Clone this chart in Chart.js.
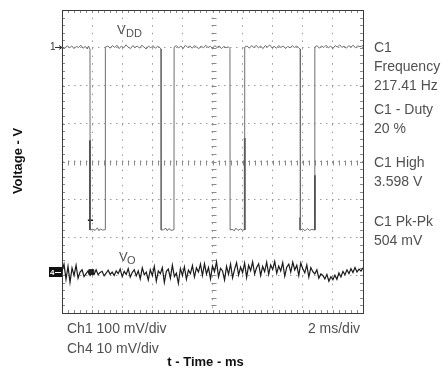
<!DOCTYPE html>
<html><head><meta charset="utf-8">
<script src="https://cdn.jsdelivr.net/npm/chart.js@4/dist/chart.umd.min.js"></script>
<style>html,body{margin:0;padding:0;background:#fff;overflow:hidden}</style>
</head><body>
<canvas id="c" width="444" height="369"></canvas>
<script>
// ---- Data (divisions on y, milliseconds on x) ----
const vddT = [0.00,0.20,0.35,0.50,0.65,0.80,0.95,1.10,1.25,1.40,1.55,1.68,1.76,1.86,
  1.87,2.05,2.20,2.35,2.45,2.55,2.70,2.87,
  2.88,3.05,3.20,3.35,3.50,3.65,3.80,3.95,4.10,4.25,4.40,4.55,4.70,4.85,5.00,5.15,5.30,5.45,5.60,5.75,5.90,6.05,6.20,6.35,6.50,6.58,
  6.59,6.75,6.90,7.00,7.10,7.25,7.44,
  7.45,7.60,7.75,7.90,8.05,8.20,8.35,8.50,8.65,8.80,8.95,9.10,9.25,9.40,9.55,9.70,9.85,10.00,10.15,10.30,10.45,10.60,10.75,10.90,11.05,11.16,
  11.17,11.30,11.45,11.55,11.70,11.85,12.00,12.13,
  12.14,12.30,12.45,12.60,12.75,12.90,13.05,13.20,13.35,13.50,13.65,13.80,13.95,14.10,14.25,14.40,14.55,14.70,14.85,15.00,15.15,15.30,15.45,15.60,15.75,15.83,
  15.84,16.00,16.15,16.30,16.45,16.60,16.79,
  16.80,16.95,17.10,17.25,17.40,17.55,17.70,17.85,18.00,18.15,18.30,18.45,18.60,18.75,18.90,19.05,19.20,19.35,19.50,19.65,19.80,20.00];
const vddV = [7.03,6.99,7.06,7.00,7.05,6.98,7.04,7.01,7.07,6.99,7.04,6.97,7.05,6.96,
  2.19,2.21,2.18,2.25,2.17,2.22,2.19,2.20,
  7.02,7.05,6.99,7.06,7.01,7.07,6.98,7.05,7.00,7.08,7.02,6.98,7.06,7.01,7.05,6.99,7.07,7.02,6.97,7.05,7.00,7.06,6.99,7.04,7.01,6.97,
  2.19,2.20,2.24,2.17,2.23,2.18,2.20,
  7.02,7.06,7.00,7.05,6.98,7.07,7.01,7.05,6.99,7.06,7.02,6.98,7.05,7.00,7.07,7.01,7.04,6.99,7.06,7.01,7.05,6.98,7.04,7.00,7.03,6.98,
  2.19,2.21,2.17,2.24,2.18,2.22,2.19,2.20,
  7.02,7.05,6.99,7.06,7.01,7.07,7.00,7.05,6.98,7.06,7.02,7.08,7.00,7.04,6.99,7.06,7.01,7.05,6.98,7.04,7.00,7.06,7.01,7.05,6.99,6.97,
  2.19,2.22,2.17,2.23,2.18,2.21,2.19,
  7.02,7.06,6.99,7.05,7.01,7.07,7.00,7.05,6.98,7.06,7.02,7.08,7.01,7.05,6.99,7.06,7.02,7.07,7.00,7.05,7.03,7.06];

// brighter (darker-drawn) edge segments of the VDD trace, null = gap
const darkT = [1.86,1.86,null,1.72,2.06,null,12.14,12.14,null,16.80,16.80,null,15.83,15.83];
const darkV = [4.56,2.19,null,2.45,2.45,null,4.62,2.19,null,3.64,2.19,null,2.53,2.19];

const yoV = [1.11,1.29,0.89,1.23,0.81,1.19,0.99,1.26,0.92,1.08,
  1.14,0.96,1.04,1.11,0.99,1.08,1.02,1.14,1.01,1.07,
  1.10,0.98,1.05,1.13,1.02,1.08,0.99,1.11,1.04,1.16,
  0.96,1.10,1.02,1.17,0.95,1.07,1.14,0.98,1.11,0.90,
  1.19,1.01,1.08,0.87,1.14,0.99,1.23,0.84,1.11,1.04,
  1.20,0.81,1.10,1.16,0.92,1.26,0.96,1.05,0.78,1.17,
  0.99,1.22,0.89,1.13,1.04,1.25,0.95,1.19,1.08,1.29,
  0.99,1.30,1.03,1.20,0.90,1.24,1.09,1.35,0.96,1.18,
  1.11,0.87,1.23,1.02,1.29,0.93,1.15,1.33,1.00,1.21,
  1.06,1.32,0.94,1.26,1.12,1.35,1.03,1.20,1.30,0.99,
  1.23,1.09,1.34,1.02,1.27,1.15,1.36,1.05,1.24,1.11,
  1.33,0.97,1.21,1.29,1.08,1.34,1.14,1.26,0.99,1.32,
  1.17,1.06,1.27,0.95,1.20,1.09,1.03,1.14,0.92,1.03,
  0.99,0.90,1.02,0.84,0.96,0.88,1.00,0.89,1.06,0.95,
  1.10,1.01,1.14,1.04,1.17,1.07,1.20,1.08,1.16,1.11,1.19];
const yoT = yoV.map((v, i) => i * 20 / (yoV.length - 1)); // evenly spaced sample times

const triggerT = [1.95];
const triggerV = [1.08];

const ch1Ref = 7.02;   // "1" channel marker level
const ch4Ref = 1.08;   // "4" channel marker level

const infoLabels = ['C1','Frequency','217.41 Hz','C1 - Duty','20 %','C1 High','3.598 V','C1 Pk-Pk','504 mV'];
const scaleLabels = ['Ch1 100 mV/div','Ch4 10 mV/div','2 ms/div'];
const xTitle = 't - Time - ms';
const yTitle = 'Voltage - V';

const toPts = (xs, ys) => xs.map((t, i) => ({x: t, y: ys[i]}));

const FONT = '"Liberation Sans", Arial, sans-serif';
const TXT = '#505050';

const scopePlugin = {
  id: 'scope',
  beforeDatasetsDraw(chart) {
    const {ctx, chartArea: a, scales: {x, y}} = chart;
    ctx.save();
    ctx.strokeStyle = '#8a8a8a'; ctx.lineWidth = 1;
    ctx.beginPath();
    const cx = Math.round(x.getPixelForValue(10)) + 0.5, cy = Math.round(y.getPixelForValue(4)) + 0.5;
    for (let k = 0; k <= 50; k++) {
      const px = Math.round(x.getPixelForValue(k * 0.4)) + 0.5;
      ctx.moveTo(px, cy - 2); ctx.lineTo(px, cy + 3);
      ctx.moveTo(px, a.bottom); ctx.lineTo(px, a.bottom - 3);
      ctx.moveTo(px, a.top); ctx.lineTo(px, a.top + 3);
    }
    for (let k = 0; k <= 40; k++) {
      const py = Math.round(y.getPixelForValue(k * 0.2)) + 0.5;
      ctx.moveTo(cx - 2, py); ctx.lineTo(cx + 3, py);
      ctx.moveTo(a.left, py); ctx.lineTo(a.left + 3, py);
      ctx.moveTo(a.right, py); ctx.lineTo(a.right - 3, py);
    }
    ctx.stroke();
    ctx.strokeStyle = '#3a3a3a';
    ctx.strokeRect(Math.round(a.left) + 0.5, Math.round(a.top) + 0.5, Math.round(a.right - a.left), Math.round(a.bottom - a.top));
    ctx.restore();
  },
  afterDatasetsDraw(chart) {
    const {ctx, chartArea: a, scales: {x, y}} = chart;
    ctx.save();
    // channel markers
    const y1 = Math.round(y.getPixelForValue(ch1Ref)) + 0.5;
    ctx.fillStyle = '#333'; ctx.font = '10px ' + FONT; ctx.textBaseline = 'middle'; ctx.textAlign = 'left';
    ctx.fillText('1', a.left - 12, y1);
    ctx.strokeStyle = '#333'; ctx.lineWidth = 1;
    ctx.beginPath(); ctx.moveTo(a.left - 7, y1); ctx.lineTo(a.left, y1);
    ctx.moveTo(a.left - 3, y1 - 2); ctx.lineTo(a.left, y1); ctx.lineTo(a.left - 3, y1 + 2); ctx.stroke();
    const y4 = Math.round(y.getPixelForValue(ch4Ref));
    ctx.fillStyle = '#111'; ctx.fillRect(a.left - 13, y4 - 5, 13, 10);
    ctx.fillStyle = '#fff'; ctx.font = 'bold 8px ' + FONT;
    ctx.fillText('4', a.left - 12, y4 + 0.5);
    ctx.strokeStyle = '#fff';
    ctx.beginPath(); ctx.moveTo(a.left - 7, y4 + 0.5); ctx.lineTo(a.left - 1, y4 + 0.5); ctx.stroke();

    // trace labels
    ctx.fillStyle = TXT; ctx.textBaseline = 'alphabetic';
    ctx.font = '13px ' + FONT; ctx.fillText('V', 117, 34);
    ctx.font = '11px ' + FONT; ctx.fillText('DD', 126, 37);
    ctx.font = '13px ' + FONT; ctx.fillText('V', 119, 261);
    ctx.font = '11px ' + FONT; ctx.fillText('O', 127, 264);

    // right annotations
    ctx.font = '14px ' + FONT; ctx.textBaseline = 'middle'; ctx.textAlign = 'left';
    const ys = [48, 67, 86, 110, 129, 163, 182, 222, 241];
    infoLabels.forEach((s, i) => ctx.fillText(s, a.right + 11, ys[i]));

    // scale readouts
    ctx.fillText(scaleLabels[0], a.left + 5, 329);
    ctx.fillText(scaleLabels[1], a.left + 5, 349);
    ctx.textAlign = 'right';
    ctx.fillText(scaleLabels[2], a.right - 3, 329);

    // axis titles
    ctx.fillStyle = '#111'; ctx.font = 'bold 13px ' + FONT; ctx.textAlign = 'center';
    ctx.fillText(xTitle, (a.left + a.right) / 2 - 7, 362);
    ctx.translate(18, 161); ctx.rotate(-Math.PI / 2);
    ctx.fillText(yTitle, 0, 0);
    ctx.restore();
  }
};

new Chart(document.getElementById('c'), {
  type: 'line',
  data: {
    datasets: [
      {label: 'VDD', data: toPts(vddT, vddV), borderColor: '#6e6e6e', borderWidth: 1, pointRadius: 0, tension: 0},
      {label: 'VDD edge', data: toPts(darkT, darkV), borderColor: '#151515', borderWidth: 1.6, pointRadius: 0, spanGaps: false, tension: 0},
      {label: 'VO', data: toPts(yoT, yoV), borderColor: '#1a1a1a', borderWidth: 1.2, pointRadius: 0, tension: 0},
      {label: 'trigger', data: toPts(triggerT, triggerV), showLine: false, pointStyle: 'rect', pointRadius: 3.5, backgroundColor: '#222', borderColor: '#222'}
    ]
  },
  options: {
    responsive: false, animation: false, devicePixelRatio: 1,
    layout: {padding: {left: 62, right: 81, top: 10, bottom: 56}},
    plugins: {legend: {display: false}, tooltip: {enabled: false}},
    scales: {
      x: {type: 'linear', min: 0, max: 20,
          ticks: {display: false, stepSize: 2},
          grid: {drawTicks: false, color: '#9a9a9a', lineWidth: 1},
          border: {display: false, dash: [1.5, 6.1]}},
      y: {type: 'linear', min: 0, max: 8,
          ticks: {display: false, stepSize: 1},
          grid: {drawTicks: false, color: '#9a9a9a', lineWidth: 1},
          border: {display: false, dash: [1.5, 4.5]}}
    }
  },
  plugins: [scopePlugin]
});
</script>
</body></html>
